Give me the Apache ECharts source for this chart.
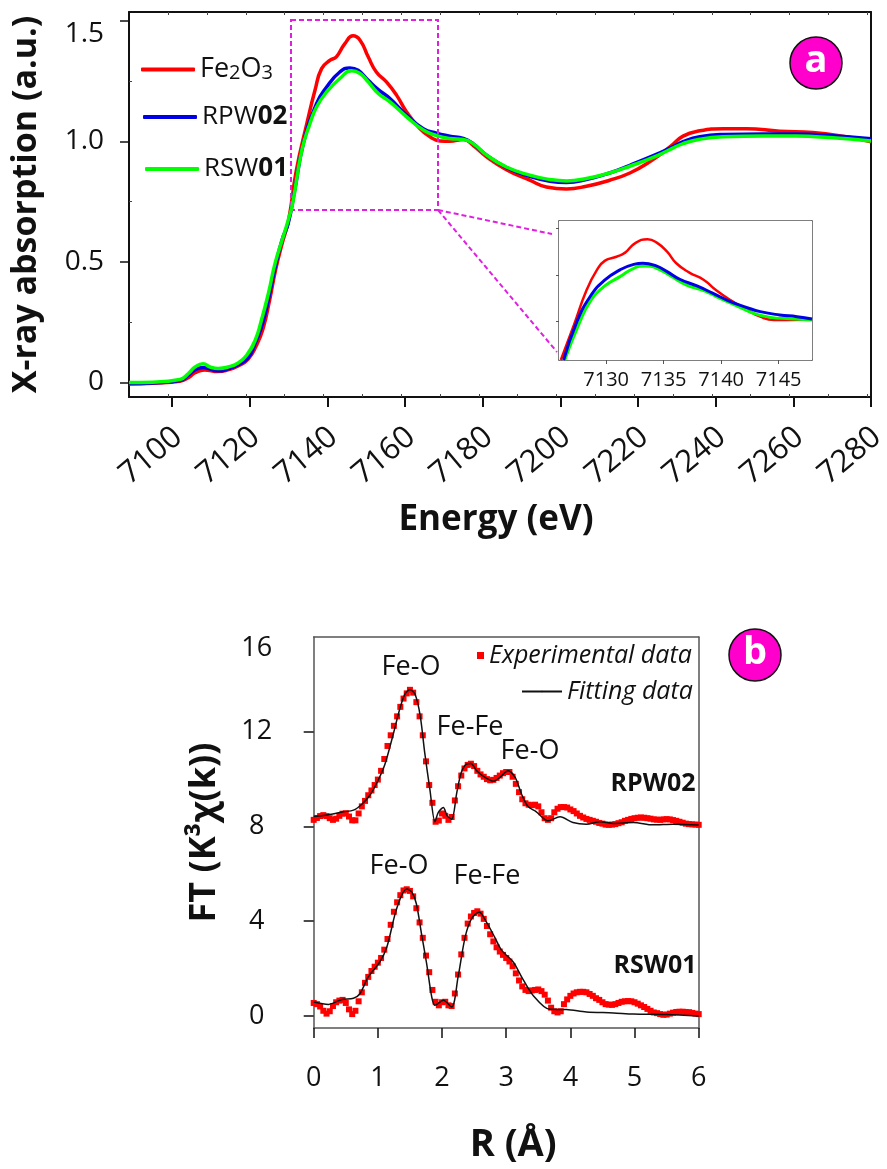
<!DOCTYPE html>
<html><head><meta charset="utf-8">
<style>html,body{margin:0;padding:0;background:#fff}#c{width:887px;height:1169px}</style>
<script src="https://cdn.jsdelivr.net/npm/echarts@6/dist/echarts.min.js"></script>
</head><body><div id="c"></div>
<script>
const energyTicks=[7100,7120,7140,7160,7180,7200,7220,7240,7260,7280];
const absorptionTicks=[0,0.5,1,1.5];
const absorptionMinorTicks=[0.25,0.75,1.25];
const energyMinorTicks=[7099,7109,7119,7129,7139,7149,7159,7169,7179,7189,7199,7209,7219,7229,7239,7249,7259,7269,7279];
const insetEnergyTicks=[7130,7135,7140,7145];
const insetAbsorptionTicks=[1,1.25,1.5];
const rTicks=[0,1,2,3,4,5,6];
const ftTicks=[0,4,8,12,16];

const fe2o3=[[7088.9,-0.007],[7095,-0.003],[7102,0.005],[7104.2,0.02],[7105.9,0.04],[7108.3,0.052],[7111.9,0.045],[7114.4,0.052],[7117,0.068],[7119.6,0.097],[7121.7,0.153],[7123.4,0.222],[7125,0.332],[7126.7,0.47],[7128.4,0.58],[7130,0.673],[7132,0.88],[7134.7,1.074],[7136.8,1.212],[7138.5,1.302],[7140.7,1.337],[7142.3,1.351],[7144.5,1.406],[7146.6,1.438],[7148.4,1.42],[7150.5,1.351],[7152.6,1.288],[7155.2,1.247],[7157.8,1.192],[7160.4,1.122],[7163.8,1.053],[7166.4,1.019],[7169,1.002],[7171.5,1.001],[7175,1.008],[7177.5,0.984],[7181,0.936],[7186.1,0.883],[7192.1,0.839],[7196.4,0.811],[7201.6,0.803],[7206.7,0.814],[7212.7,0.839],[7217.9,0.869],[7223,0.915],[7228.2,0.977],[7231.6,1.022],[7235.9,1.044],[7241.9,1.053],[7247.9,1.053],[7256.5,1.042],[7265,1.037],[7273.6,1.019],[7280,0.998]];
const rpw02=[[7088.9,-0.005],[7095,-0.002],[7102,0.008],[7104.2,0.03],[7105.9,0.052],[7108,0.062],[7111.9,0.048],[7114.4,0.056],[7117,0.073],[7119.6,0.103],[7121.5,0.167],[7123.4,0.25],[7125,0.36],[7126.7,0.49],[7128.4,0.595],[7129.9,0.66],[7131.5,0.79],[7133.8,0.991],[7137.2,1.157],[7139.8,1.226],[7143.2,1.288],[7145.8,1.305],[7147.9,1.295],[7150.5,1.254],[7153.1,1.215],[7156.1,1.178],[7160.4,1.109],[7164.7,1.053],[7168.1,1.034],[7171.5,1.022],[7175,1.012],[7177.5,0.991],[7181,0.943],[7186.1,0.892],[7192.1,0.855],[7197.3,0.835],[7201.6,0.83],[7206.7,0.842],[7212.7,0.869],[7217.9,0.901],[7224.7,0.946],[7228.2,0.972],[7231.6,0.999],[7235.9,1.02],[7241.9,1.029],[7252.2,1.031],[7260.8,1.031],[7269.3,1.025],[7280,1.011]];
const rsw01=[[7088.9,0],[7095,0.001],[7102,0.012],[7104.2,0.037],[7105.9,0.064],[7108,0.077],[7109.8,0.064],[7111.9,0.058],[7114.4,0.064],[7117,0.081],[7119.2,0.113],[7121.4,0.175],[7123,0.258],[7124.8,0.369],[7126.5,0.493],[7128.6,0.604],[7129.9,0.673],[7131,0.74],[7133.4,0.963],[7135.5,1.074],[7137.2,1.143],[7139.8,1.205],[7143.2,1.261],[7146.2,1.293],[7148.4,1.282],[7150.5,1.247],[7153.1,1.199],[7156.1,1.164],[7160.4,1.102],[7164.7,1.047],[7168.1,1.024],[7171.5,1.012],[7175,1.008],[7177.5,0.991],[7181,0.943],[7186.1,0.894],[7192.1,0.86],[7197.3,0.842],[7201.6,0.836],[7206.7,0.846],[7212.7,0.869],[7217.9,0.897],[7224.7,0.939],[7228.2,0.966],[7231.6,0.991],[7235.9,1.009],[7241.9,1.019],[7252.2,1.022],[7260.8,1.022],[7269.3,1.016],[7280,1.002]];

const insetFe2o3=[[7126.06,0.794],[7127.2,0.982],[7128.3,1.17],[7129.2,1.278],[7129.9,1.328],[7130.9,1.349],[7131.65,1.371],[7132.5,1.421],[7133.6,1.443],[7134.4,1.425],[7135.3,1.376],[7136.1,1.314],[7137.2,1.265],[7138.5,1.224],[7139.6,1.167],[7140.8,1.116],[7142.2,1.066],[7143.4,1.027],[7144.6,1.009],[7146.3,1.009],[7147.9,1.013]];
const insetRpw02=[[7126.3,0.794],[7127.4,0.991],[7128.6,1.134],[7129.9,1.224],[7131.2,1.278],[7132.4,1.308],[7133.2,1.314],[7134.3,1.301],[7135.3,1.269],[7136.4,1.228],[7137.9,1.192],[7139.3,1.152],[7140.8,1.108],[7142.2,1.077],[7143.4,1.054],[7145.1,1.036],[7146.6,1.027],[7147.9,1.014]];
const insetRsw01=[[7126.4,0.794],[7127.6,0.982],[7128.6,1.108],[7129.8,1.188],[7131.2,1.242],[7132.4,1.287],[7133.4,1.299],[7134.4,1.287],[7135.6,1.246],[7137,1.197],[7138.5,1.167],[7139.9,1.125],[7141.4,1.084],[7142.8,1.045],[7144.3,1.023],[7146,1.016],[7147.9,1.009]];

const fitRpw02=[[0,8.42],[0.25,8.51],[0.46,8.62],[0.62,8.69],[0.75,8.94],[0.88,9.34],[1,9.93],[1.11,10.63],[1.24,11.9],[1.34,12.95],[1.42,13.58],[1.5,13.77],[1.58,13.58],[1.66,12.67],[1.73,11.12],[1.81,9.58],[1.89,8.2],[1.94,8.59],[2.02,8.8],[2.08,8.45],[2.15,8.31],[2.23,9.43],[2.3,10.28],[2.38,10.63],[2.45,10.66],[2.54,10.35],[2.67,10.07],[2.8,9.91],[2.9,10.07],[3.03,10.35],[3.14,10.07],[3.24,9.36],[3.34,8.84],[3.47,8.62],[3.65,8.24],[3.84,8.41],[4.04,8.17],[4.25,8.1],[4.46,8.2],[4.67,8.13],[4.98,8.17],[5.29,8.07],[5.6,8.1],[6,8.06]];
const fitRsw01=[[0,0.59],[0.23,0.49],[0.44,0.7],[0.62,0.75],[0.72,0.94],[0.85,1.65],[1.03,2.28],[1.14,2.91],[1.27,4.32],[1.37,5.09],[1.45,5.36],[1.53,5.23],[1.6,4.74],[1.68,3.47],[1.76,2.21],[1.84,0.8],[1.89,0.45],[2.02,0.66],[2.15,0.38],[2.25,1.65],[2.36,3.33],[2.46,4.11],[2.58,4.39],[2.69,3.97],[2.82,3.33],[2.93,2.77],[3.11,2.28],[3.24,1.65],[3.42,0.87],[3.68,0.28],[3.94,0.27],[4.25,0.17],[4.67,0.13],[4.98,0.08],[5.5,0.06],[6,0]];

const expR=[0,0.05,0.1,0.15,0.2,0.25,0.3,0.35,0.4,0.45,0.5,0.55,0.6,0.65,0.7,0.75,0.8,0.85,0.9,0.95,1,1.05,1.1,1.15,1.2,1.25,1.3,1.35,1.4,1.45,1.5,1.55,1.6,1.65,1.7,1.75,1.8,1.85,1.9,1.95,2,2.05,2.1,2.15,2.2,2.25,2.3,2.35,2.4,2.45,2.5,2.55,2.6,2.65,2.7,2.75,2.8,2.85,2.9,2.95,3,3.05,3.1,3.15,3.2,3.25,3.3,3.35,3.4,3.45,3.5,3.55,3.6,3.65,3.7,3.75,3.8,3.85,3.9,3.95,4,4.05,4.1,4.15,4.2,4.25,4.3,4.35,4.4,4.45,4.5,4.55,4.6,4.65,4.7,4.75,4.8,4.85,4.9,4.95,5,5.05,5.1,5.15,5.2,5.25,5.3,5.35,5.4,5.45,5.5,5.55,5.6,5.65,5.7,5.75,5.8,5.85,5.9,5.95,6];
const expRpw02=[8.28,8.36,8.44,8.48,8.44,8.35,8.28,8.33,8.45,8.54,8.56,8.42,8.26,8.26,8.55,8.85,9.08,9.32,9.52,9.75,9.98,10.35,10.85,11.4,11.85,12.25,12.65,13.05,13.4,13.62,13.77,13.65,13.25,12.65,11.85,10.75,9.75,9,8.2,8.25,8.55,8.45,8.28,8.4,9.1,9.7,10.15,10.45,10.6,10.65,10.55,10.35,10.2,10.1,10,9.95,9.97,10.05,10.15,10.25,10.3,10.3,10.1,9.8,9.45,9.15,8.98,8.92,8.9,8.92,8.85,8.6,8.35,8.28,8.35,8.6,8.75,8.82,8.82,8.8,8.72,8.65,8.55,8.45,8.38,8.32,8.28,8.24,8.2,8.15,8.12,8.08,8.07,8.08,8.1,8.14,8.18,8.24,8.28,8.32,8.35,8.37,8.38,8.37,8.35,8.33,8.3,8.29,8.28,8.3,8.31,8.3,8.27,8.24,8.2,8.16,8.12,8.1,8.09,8.08,8.07];
const expRsw01=[0.55,0.5,0.4,0.22,0.1,0.2,0.42,0.58,0.65,0.68,0.55,0.28,0.08,0.22,0.62,1,1.4,1.65,1.9,2.08,2.25,2.45,2.8,3.25,3.85,4.4,4.8,5.1,5.3,5.35,5.28,5.05,4.55,3.95,3.3,2.55,1.85,1.1,0.6,0.45,0.58,0.6,0.45,0.42,0.95,1.75,2.6,3.3,3.9,4.2,4.35,4.42,4.32,4.1,3.8,3.45,3.15,2.9,2.72,2.58,2.45,2.3,2.1,1.8,1.5,1.25,1.1,1.05,1.08,1.1,1.12,1.05,0.9,0.65,0.35,0.2,0.15,0.2,0.5,0.7,0.85,0.95,1,1.02,1.02,1,0.93,0.85,0.75,0.68,0.58,0.5,0.48,0.47,0.5,0.55,0.6,0.62,0.63,0.62,0.58,0.52,0.45,0.38,0.3,0.22,0.15,0.12,0.08,0.05,0.06,0.1,0.14,0.17,0.18,0.18,0.17,0.16,0.13,0.1,0.08];
const zip=(xs,ys)=>xs.map((x,i)=>[x,ys[i]]);

const F='"Open Sans","Noto Sans",sans-serif';
const K='#111';
const off={show:false};
function note(t,x,y,size,extra){return {type:'text',x,y,style:Object.assign({text:t,font:`${size}px ${F}`,fill:K,textAlign:'center',textVerticalAlign:'middle'},extra||{}),z:20};}
function dash(shape,type){return {type,shape,style:{stroke:'#e020e0',lineWidth:2,lineDash:[5,3],fill:null},z:5};}
function badge(t,x,y){return [{type:'circle',shape:{cx:x,cy:y,r:26},style:{fill:'#ff00cc',stroke:'#111',lineWidth:1.5},z:20},
 {type:'text',x,y:y-2,style:{text:t,font:`bold 38px ${F}`,fill:'#fff',textAlign:'center',textVerticalAlign:'middle'},z:21}];}

const chart=echarts.init(document.getElementById('c'),null,{renderer:'canvas'});
chart.setOption({
 animation:false,backgroundColor:'#fff',
 grid:[
  {left:129,top:12,width:742,height:385,outerBoundsMode:'none'},
  {left:559,top:221,width:253,height:139,show:true,backgroundColor:'#fff',borderWidth:0,z:3,outerBoundsMode:'none'},
  {left:313.7,top:637,width:385,height:391,outerBoundsMode:'none'},
  {left:135,top:12,width:742,height:385,outerBoundsMode:'none'}
 ],
 xAxis:[
  {gridIndex:0,type:'value',min:7088.9,max:7280,position:'bottom',splitLine:off,
   axisLine:{onZero:false,lineStyle:{color:K,width:2}},
   axisTick:{customValues:energyTicks,length:10,lineStyle:{color:K,width:2}},
   axisLabel:off,
   name:'Energy (eV)',nameLocation:'middle',nameGap:106,nameTextStyle:{fontFamily:F,fontWeight:'bold',fontSize:35,color:K,padding:[0,8,0,0]}},
  {gridIndex:0,type:'value',min:7088.9,max:7280,position:'top',splitLine:off,
   axisLine:{onZero:false,lineStyle:{color:K,width:2}},axisLabel:off,
   axisTick:{inside:true,customValues:energyMinorTicks,length:3,lineStyle:{color:'#444',width:1}}},
  {gridIndex:0,type:'value',min:7088.9,max:7280,position:'bottom',splitLine:off,
   axisLine:{onZero:false,show:false},axisLabel:off,
   axisTick:{inside:true,customValues:energyMinorTicks,length:3,lineStyle:{color:'#444',width:1}}},
  {gridIndex:1,type:'value',min:7125.9,max:7147.9,position:'bottom',splitLine:off,
   axisLine:{onZero:false,lineStyle:{color:'#555',width:1.5}},
   axisTick:{customValues:insetEnergyTicks,length:4,lineStyle:{color:'#555'}},
   axisLabel:{customValues:insetEnergyTicks,margin:10,fontFamily:F,fontSize:20,color:K,formatter:v=>String(v)}},
  {gridIndex:1,type:'value',min:7125.9,max:7147.9,position:'top',splitLine:off,
   axisLine:{onZero:false,lineStyle:{color:'#555',width:1.5}},axisLabel:off,axisTick:off},
  {gridIndex:2,type:'value',min:0,max:6,interval:1,position:'bottom',splitLine:off,
   axisLine:{onZero:false,lineStyle:{color:'#555',width:1.5}},
   axisTick:{customValues:rTicks,length:10,lineStyle:{color:K,width:1.5}},
   axisLabel:{customValues:rTicks,margin:37,fontFamily:F,fontSize:27,color:K,formatter:v=>String(v)},
   name:'R (Å)',nameLocation:'middle',nameGap:98,nameTextStyle:{fontFamily:F,fontWeight:'bold',fontSize:38,color:K,padding:[0,0,0,14]}},
  {gridIndex:2,type:'value',min:0,max:6,interval:1,position:'top',splitLine:off,
   axisLine:{onZero:false,lineStyle:{color:'#555',width:1.5}},axisLabel:off,axisTick:off},
  {gridIndex:3,type:'value',min:7088.9,max:7280,position:'bottom',splitLine:off,
   axisLine:{onZero:false,show:false},axisTick:off,
   axisLabel:{customValues:energyTicks,rotate:40,margin:36,fontFamily:F,fontSize:31,color:K,formatter:v=>String(v),showMinLabel:true,showMaxLabel:true,hideOverlap:false}}
 ],
 yAxis:[
  {gridIndex:0,type:'value',min:-0.0605,max:1.537,position:'left',splitLine:off,
   axisLine:{onZero:false,lineStyle:{color:K,width:2}},
   axisTick:{customValues:absorptionTicks,length:9,lineStyle:{color:K,width:1.5}},
   axisLabel:{customValues:absorptionTicks,margin:25,padding:[6,0,0,0],fontFamily:F,fontSize:28,color:K,verticalAlignMaxLabel:'top',lineHeight:14,formatter:v=>v===0?'0':v.toFixed(1)},
   name:'X-ray absorption (a.u.)',nameLocation:'middle',nameGap:86,nameRotate:90,nameTextStyle:{fontFamily:F,fontWeight:'bold',fontSize:34,color:K}},
  {gridIndex:0,type:'value',min:-0.0605,max:1.537,position:'right',splitLine:off,
   axisLine:{onZero:false,lineStyle:{color:K,width:2}},axisLabel:off,axisTick:off},
  {gridIndex:0,type:'value',min:-0.0605,max:1.537,position:'left',splitLine:off,
   axisLine:{onZero:false,show:false},axisLabel:off,
   axisTick:{inside:true,customValues:absorptionMinorTicks,length:3,lineStyle:{color:'#444',width:1}}},
  {gridIndex:1,type:'value',min:0.794,max:1.541,position:'left',splitLine:off,
   axisLine:{onZero:false,lineStyle:{color:'#555',width:1.5}},axisLabel:off,
   axisTick:{customValues:insetAbsorptionTicks,length:3,lineStyle:{color:'#555'}}},
  {gridIndex:1,type:'value',min:0.794,max:1.541,position:'right',splitLine:off,
   axisLine:{onZero:false,lineStyle:{color:'#555',width:1.5}},axisLabel:off,axisTick:off},
  {gridIndex:2,type:'value',min:-0.507,max:16,position:'left',splitLine:off,
   axisLine:{onZero:false,lineStyle:{color:'#555',width:1.5}},
   axisTick:{customValues:ftTicks.slice(0,4),length:10,lineStyle:{color:K,width:1.5}},
   axisLabel:{customValues:ftTicks,margin:57,align:'center',padding:[2,0,0,0],verticalAlignMaxLabel:'top',lineHeight:18,fontFamily:F,fontSize:27,color:K,formatter:v=>String(v)},
   name:'FT (K³χ(k))',nameLocation:'middle',nameGap:91,nameRotate:90,
   nameTextStyle:{fontFamily:F,fontWeight:'bold',fontSize:36,color:K}},
  {gridIndex:2,type:'value',min:-0.507,max:16,position:'right',splitLine:off,
   axisLine:{onZero:false,lineStyle:{color:'#555',width:1.5}},axisLabel:off,axisTick:off},
  {gridIndex:3,type:'value',min:0,max:1,show:false}
 ],
 legend:[
  {data:['Fe2O3'],left:141,top:56,padding:0,itemWidth:54,itemHeight:4,selectedMode:false,icon:'roundRect',formatter:()=>'{a|Fe}{s|2}{a|O}{s|3}',
   textStyle:{rich:{a:{fontFamily:F,fontSize:27,color:K},s:{fontFamily:F,fontSize:20,color:K,verticalAlign:'bottom'}}}},
  {data:['RPW02'],left:143,top:104,padding:0,itemWidth:54,itemHeight:4,selectedMode:false,icon:'roundRect',formatter:()=>'{a|RPW}{b|02}',
   textStyle:{rich:{a:{fontFamily:F,fontSize:26,color:K},b:{fontFamily:F,fontSize:26,fontWeight:'bold',color:K}}}},
  {data:['RSW01'],left:145,top:156,padding:0,itemWidth:54,itemHeight:4,selectedMode:false,icon:'roundRect',formatter:()=>'{a|RSW}{b|01}',
   textStyle:{rich:{a:{fontFamily:F,fontSize:26,color:K},b:{fontFamily:F,fontSize:26,fontWeight:'bold',color:K}}}},
  {data:['Experimental data'],left:477,top:643,padding:0,itemWidth:7,itemHeight:7,selectedMode:false,icon:'rect',
   textStyle:{fontFamily:F,fontStyle:'italic',fontSize:25,color:K}},
  {data:['Fitting data'],left:521,top:679,padding:0,itemWidth:40,itemHeight:2,selectedMode:false,
   textStyle:{fontFamily:F,fontStyle:'italic',fontSize:25,color:K}}
 ],
 series:[
  {name:'Fe2O3',type:'line',xAxisIndex:0,yAxisIndex:0,data:fe2o3,smooth:true,symbol:'none',lineStyle:{color:'#ff0000',width:3.5},itemStyle:{color:'#ff0000'},z:3},
  {name:'RPW02',type:'line',xAxisIndex:0,yAxisIndex:0,data:rpw02,smooth:true,symbol:'none',lineStyle:{color:'#0000e6',width:3.5},itemStyle:{color:'#0000e6'},z:4},
  {name:'RSW01',type:'line',xAxisIndex:0,yAxisIndex:0,data:rsw01,smooth:true,symbol:'none',lineStyle:{color:'#00ff00',width:3.5},itemStyle:{color:'#00ff00'},z:5},
  {name:'inset Fe2O3',type:'line',xAxisIndex:3,yAxisIndex:3,data:insetFe2o3,smooth:true,symbol:'none',lineStyle:{color:'#ff0000',width:2.5},z:6},
  {name:'inset RPW02',type:'line',xAxisIndex:3,yAxisIndex:3,data:insetRpw02,smooth:true,symbol:'none',lineStyle:{color:'#0000e6',width:3},z:8},
  {name:'inset RSW01',type:'line',xAxisIndex:3,yAxisIndex:3,data:insetRsw01,smooth:true,symbol:'none',lineStyle:{color:'#00ff00',width:3},z:7},
  {name:'Experimental data',type:'scatter',xAxisIndex:5,yAxisIndex:5,data:zip(expR,expRpw02),symbol:'rect',symbolSize:6,itemStyle:{color:'#ff0000',opacity:1},z:3},
  {name:'Experimental data',type:'scatter',xAxisIndex:5,yAxisIndex:5,data:zip(expR,expRsw01),symbol:'rect',symbolSize:6,itemStyle:{color:'#ff0000',opacity:1},z:3},
  {name:'Fitting data',type:'line',xAxisIndex:5,yAxisIndex:5,data:fitRpw02,smooth:0.3,symbol:'none',lineStyle:{color:'#111',width:1.5},itemStyle:{color:'#111'},z:4},
  {name:'Fitting data',type:'line',xAxisIndex:5,yAxisIndex:5,data:fitRsw01,smooth:0.3,symbol:'none',lineStyle:{color:'#111',width:1.5},itemStyle:{color:'#111'},z:4}
 ],
 graphic:[
  dash({x:291,y:20,width:147,height:190},'rect'),
  dash({x1:438,y1:210,x2:552,y2:234},'line'),
  dash({x1:438,y1:210,x2:557,y2:352},'line'),
  ...badge('a',816,63),
  ...badge('b',755,655),
  note('Fe-O',411,667,27),
  note('Fe-Fe',470,727,27),
  note('Fe-O',530,751,27),
  note('RPW02',653,784,25,{font:`bold 25px ${F}`}),
  note('Fe-O',399,866,27),
  note('Fe-Fe',487,876,27),
  note('RSW01',655,966,25,{font:`bold 25px ${F}`})
 ]
});
</script></body></html>
